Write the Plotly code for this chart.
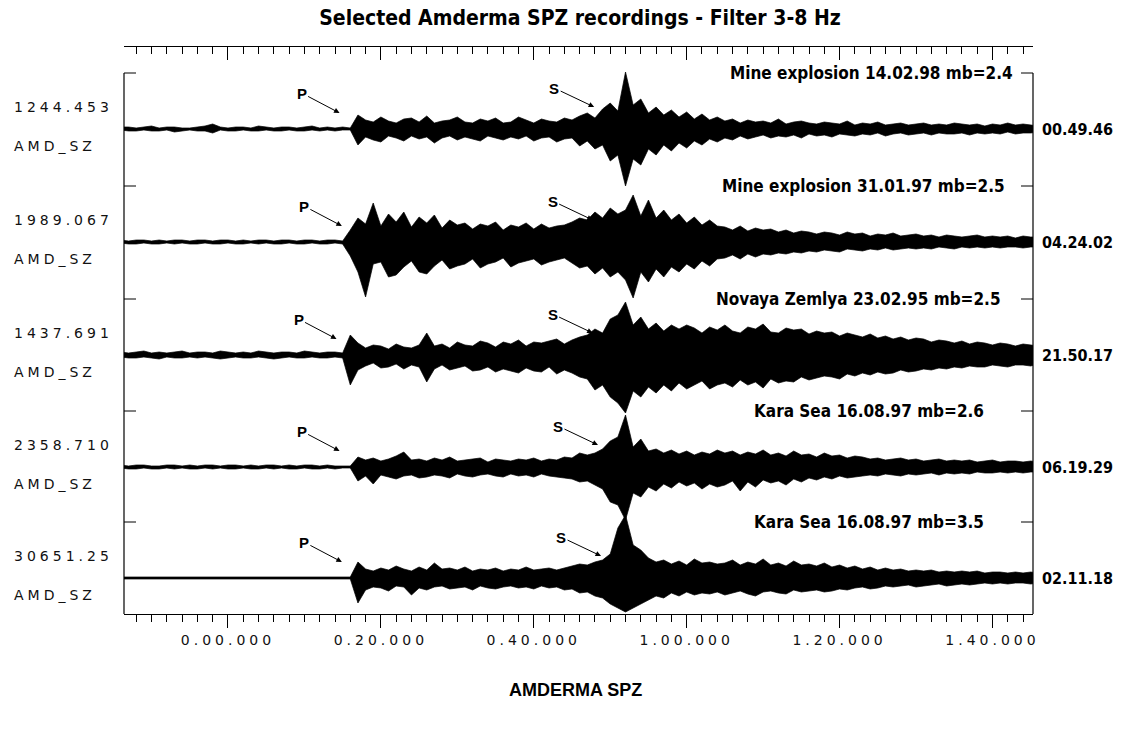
import plotly.graph_objects as go

# ---------------- data ----------------
TIME = list(range(-14, 107))  # seconds relative to 0.00.000, 1 s steps

TITLES = ["Mine explosion 14.02.98 mb=2.4", "Mine explosion 31.01.97 mb=2.5",
          "Novaya Zemlya 23.02.95 mb=2.5", "Kara Sea 16.08.97 mb=2.6",
          "Kara Sea 16.08.97 mb=3.5"]
AMP_LABELS = ["1244.453", "1989.067", "1437.691", "2358.710", "30651.25"]
STATION = "AMD_SZ"
START_TIMES = ["00.49.46", "04.24.02", "21.50.17", "06.19.29", "02.11.18"]
P_PICK = [14.6, 14.9, 14.2, 14.6, 14.9]
S_PICK = [47.9, 47.7, 47.7, 48.4, 48.8]
TICK_VALS = [0, 20, 40, 60, 80, 100]
TICK_TEXT = ["0.00.000", "0.20.000", "0.40.000", "1.00.000", "1.20.000", "1.40.000"]

# upper / lower envelopes (display units), one value per TIME sample
UP1 = [2,2,1,2,3,1,2,2,1,1,2,3,5,2,1,2,2,1,3,2,1,2,2,1,2,3,1,2,1,2,1,
       14,9,7,12,8,6,10,11,7,13,6,8,9,12,7,6,10,8,11,6,7,12,9,6,10,8,7,11,9,13,
       16,11,20,26,18,57,24,30,16,22,14,19,12,17,10,15,9,12,
       8,10,6,9,7,8,6,10,5,7,8,6,5,7,6,5,8,4,6,5,7,4,5,6,4,5,6,4,5,4,6,5,4,5,3,5,4,6,4,5,4,3]
DN1 = [1,2,2,1,2,2,1,3,2,1,2,2,4,1,2,2,1,2,2,1,2,2,1,2,2,1,2,1,2,1,1,
       16,8,11,13,7,9,12,7,10,8,14,9,7,11,8,10,12,7,9,11,8,10,7,12,9,8,13,10,9,17,
       12,20,16,32,26,57,30,36,20,26,16,22,14,19,12,16,10,13,
       9,11,7,10,8,6,9,7,8,6,9,5,7,6,8,5,6,7,5,6,4,7,5,4,6,5,4,6,4,5,5,4,6,4,5,4,5,3,5,4,4,3]

UP2 = [2,1,2,2,1,2,1,2,2,1,2,2,1,2,2,1,2,1,2,2,1,2,2,1,2,2,1,2,2,1,12,
       24,18,39,16,28,20,30,15,25,19,27,14,22,17,19,13,18,16,20,12,17,15,19,13,18,14,16,17,20,24,
       22,30,24,34,28,32,47,26,42,24,32,22,28,19,25,17,22,16,
       15,12,16,11,14,12,13,10,12,9,11,10,8,10,9,7,10,8,9,6,8,7,9,6,7,8,6,7,5,7,6,5,6,7,5,6,5,6,4,6,5,5]
DN2 = [1,2,2,1,2,2,1,2,1,2,2,1,2,2,1,2,2,1,2,1,2,2,1,2,2,1,2,2,1,2,14,
       30,55,22,20,35,33,25,19,30,32,24,18,27,24,22,17,26,22,20,16,25,21,19,17,23,20,18,16,21,26,
       24,32,26,35,30,38,56,30,40,27,35,25,30,22,27,19,24,17,
       16,13,17,12,15,12,13,11,12,10,11,9,10,8,9,10,7,8,9,7,8,6,8,7,6,7,6,7,5,6,7,5,6,5,6,5,6,5,5,6,5,5]

UP3 = [3,2,3,4,2,3,2,3,4,2,3,3,2,4,3,2,3,2,4,3,2,3,3,2,4,3,2,3,3,2,20,
       12,7,10,9,6,11,8,7,10,22,9,11,7,13,10,9,14,12,8,13,11,15,9,13,12,14,16,11,15,18,
       20,26,22,36,40,53,30,38,26,32,24,30,26,30,27,22,28,25,
       30,24,22,28,26,31,23,22,27,25,26,21,24,22,23,19,22,20,18,21,17,19,16,18,15,17,16,13,15,14,12,14,11,13,12,10,12,11,9,11,10,9]
DN3 = [2,3,3,2,3,4,2,3,3,2,3,2,3,4,3,2,3,3,2,3,4,3,2,3,3,2,3,3,2,3,30,
       15,11,8,13,12,9,14,10,12,27,14,10,15,13,11,16,15,12,17,14,16,18,13,16,17,12,19,15,18,22,
       24,35,30,42,48,58,36,42,32,38,30,36,28,34,30,26,34,30,
       28,32,25,30,27,33,24,28,26,27,22,25,23,21,22,24,19,21,18,20,17,19,18,15,17,16,14,15,13,14,12,13,11,12,12,10,11,12,10,10,11,9]

UP4 = [2,1,2,2,1,1,2,2,1,2,1,2,2,1,2,2,1,2,1,2,2,1,2,1,2,2,1,2,1,1,1,
       10,7,9,6,8,11,15,7,8,6,9,7,10,6,7,8,9,5,8,7,6,8,7,9,6,8,7,10,9,14,
       12,14,18,26,30,52,20,28,16,18,14,17,13,16,12,15,13,17,
       14,16,12,15,13,17,12,14,11,16,12,13,10,14,11,12,9,11,10,8,9,7,8,9,7,8,6,7,8,6,7,6,7,5,6,7,5,6,6,5,6,5]
DN4 = [1,2,2,1,2,2,1,2,1,2,2,1,2,1,2,2,1,2,2,1,2,1,2,2,1,2,2,1,2,1,1,
       14,9,17,8,10,12,9,8,11,10,8,9,11,7,9,10,8,7,9,10,7,9,8,10,7,9,10,11,12,15,
       14,18,22,35,38,53,26,30,20,24,17,21,15,19,16,22,17,20,
       18,14,24,15,20,13,16,14,18,12,15,11,13,10,12,9,11,10,9,8,9,7,8,9,7,8,7,6,8,6,7,6,7,5,6,6,5,6,5,6,5,5]

UP5 = [1,1,1,1,1,1,1,1,1,1,1,1,1,1,1,1,1,1,1,1,1,1,1,1,1,1,1,1,1,1,1,
       16,9,7,10,8,12,9,7,11,8,15,9,10,8,11,7,9,8,10,7,9,8,11,8,9,10,8,10,12,14,
       13,16,18,24,50,63,33,28,20,16,18,14,17,13,19,15,16,14,
       15,18,13,16,14,19,13,15,12,17,13,14,12,15,11,13,10,12,9,11,8,10,8,9,7,8,7,8,6,7,6,7,6,7,5,6,6,5,6,5,6,5]
DN5 = [1,1,1,1,1,1,1,1,1,1,1,1,1,1,1,1,1,1,1,1,1,1,1,1,1,1,1,1,1,1,1,
       25,12,9,10,13,8,9,17,10,12,9,8,11,10,9,12,8,10,11,9,8,10,9,11,8,10,9,12,11,15,
       14,18,20,26,30,34,30,26,22,18,20,15,18,14,17,15,16,14,
       17,15,13,16,18,14,13,15,16,12,14,13,12,14,13,11,12,10,9,11,10,8,9,8,7,9,8,7,6,8,7,6,7,6,5,6,5,6,5,5,6,5]

UPS = [UP1, UP2, UP3, UP4, UP5]
DNS = [DN1, DN2, DN3, DN4, DN5]
for arr in UPS + DNS:
    assert len(arr) == len(TIME), len(arr)

# ---------------- layout geometry (pixels) ----------------
W, H = 1128, 732
PL, PR = 124, 1033          # plot left / right edge
PT, PB = 47, 614            # top axis / bottom axis
XR = [-13.6, 105.3]
BASE_PX = [129, 242, 355, 467, 578]
TITLE_RIGHT_PX = [1015, 1007, 1003, 986, 986]


def ydat(py):
    return PB - py


def xpaper(px):
    return (px - PL) / (PR - PL)


def ypaper(py):
    return (PB - py) / (PB - PT)


COND = "DejaVu Sans Condensed, Liberation Sans Narrow, Arial Narrow, sans-serif"
PLOTTER = "DejaVu Sans, Verdana, sans-serif"

fig = go.Figure()
for k in range(5):
    b = ydat(BASE_PX[k])
    xs = TIME + TIME[::-1]
    ys = [b + u for u in UPS[k]] + [b - d for d in DNS[k][::-1]]
    fig.add_trace(go.Scatter(x=xs, y=ys, mode="lines", fill="toself",
                             fillcolor="#000", line=dict(color="#000", width=0.7),
                             hoverinfo="skip", showlegend=False))

# invisible trace for top axis
fig.add_trace(go.Scatter(x=[XR[0]], y=[0], xaxis="x2", mode="markers",
                         marker=dict(opacity=0), showlegend=False, hoverinfo="skip"))

ann = []
shapes = []
for k in range(5):
    b = BASE_PX[k]
    top = b - 56
    ann.append(dict(x=xpaper(TITLE_RIGHT_PX[k]), y=ypaper(top), xref="paper", yref="paper",
                    text="<b>%s</b>" % TITLES[k], showarrow=False, xanchor="right",
                    yanchor="middle", font=dict(family=COND, size=17, color="#000")))
    ann.append(dict(x=xpaper(12), y=ypaper(b - 22), xref="paper", yref="paper",
                    text='<span style="letter-spacing:4px">%s</span>' % AMP_LABELS[k],
                    showarrow=False, xanchor="left", yanchor="middle",
                    font=dict(family=PLOTTER, size=14, color="#111")))
    ann.append(dict(x=xpaper(12), y=ypaper(b + 17), xref="paper", yref="paper",
                    text='<span style="letter-spacing:4px">%s</span>' % STATION,
                    showarrow=False, xanchor="left", yanchor="middle",
                    font=dict(family=PLOTTER, size=14, color="#111")))
    ann.append(dict(x=xpaper(1040), y=ypaper(b), xref="paper", yref="paper",
                    text="<b>%s</b>" % START_TIMES[k], showarrow=False, xanchor="left",
                    yanchor="middle", font=dict(family=COND, size=16, color="#000")))
    ann.append(dict(x=P_PICK[k], y=ydat(b - 16), xref="x", yref="y", text="<b>P</b>",
                    showarrow=True, ax=-38, ay=-20, arrowhead=2, arrowsize=1.1,
                    arrowwidth=1, arrowcolor="#000", standoff=0,
                    font=dict(family="Liberation Sans, Arial", size=15, color="#000")))
    ann.append(dict(x=S_PICK[k], y=ydat(b - 22), xref="x", yref="y", text="<b>S</b>",
                    showarrow=True, ax=-40, ay=-19, arrowhead=2, arrowsize=1.1,
                    arrowwidth=1, arrowcolor="#000", standoff=0,
                    font=dict(family="Liberation Sans, Arial", size=15, color="#000")))
    shapes.append(dict(type="line", xref="paper", yref="paper", x0=0, x1=xpaper(PL + 12),
                       y0=ypaper(top), y1=ypaper(top), line=dict(color="#000", width=1)))
    shapes.append(dict(type="line", xref="paper", yref="paper", x0=1, x1=xpaper(PR - 12),
                       y0=ypaper(top), y1=ypaper(top), line=dict(color="#000", width=1)))

for xp in (0, 1):
    shapes.append(dict(type="line", xref="paper", yref="paper", x0=xp, x1=xp,
                       y0=0, y1=ypaper(BASE_PX[0] - 56), line=dict(color="#000", width=1.2)))

ann.append(dict(x=xpaper(575), y=ypaper(690), xref="paper", yref="paper",
                text="<b>AMDERMA SPZ</b>", showarrow=False, yanchor="middle",
                font=dict(family="Liberation Sans, Arial", size=18, color="#000")))

tick_text = ['<span style="letter-spacing:4px">%s</span>' % t for t in TICK_TEXT]

axis_common = dict(range=XR, showline=True, linecolor="#000", linewidth=1.2,
                   showgrid=False, zeroline=False, tickmode="array",
                   tickvals=TICK_VALS, ticklen=13, tickwidth=1, tickcolor="#000",
                   minor=dict(tickmode="linear", tick0=0, dtick=2, ticklen=7,
                              tickwidth=1, tickcolor="#000", showgrid=False))

fig.update_layout(
    width=W, height=H, paper_bgcolor="white", plot_bgcolor="white",
    margin=dict(l=PL, r=W - PR, t=PT, b=H - PB, pad=0),
    title=dict(text="<b>Selected Amderma SPZ recordings - Filter 3-8 Hz</b>",
               x=580 / W, xanchor="center", y=1 - 18 / H,
               yanchor="middle", font=dict(family=COND, size=21, color="#000")),
    xaxis=dict(**axis_common, ticks="outside", ticktext=tick_text,
               tickfont=dict(family=PLOTTER, size=14, color="#111"),
               minor_ticks="outside"),
    xaxis2=dict(**axis_common, overlaying="x", side="top", ticks="inside",
                showticklabels=False, minor_ticks="inside", matches="x"),
    yaxis=dict(range=[0, PB - PT], visible=False, fixedrange=True),
    annotations=ann, shapes=shapes, showlegend=False,
)

fig.write_html("out.html")
